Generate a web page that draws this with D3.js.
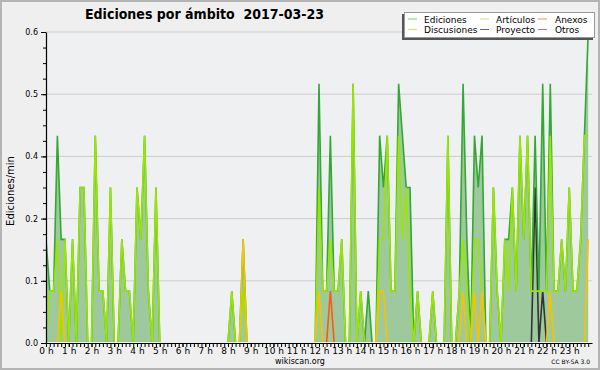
<!DOCTYPE html>
<html>
<head>
<meta charset="utf-8">
<script src="https://cdn.jsdelivr.net/npm/d3@7/dist/d3.min.js"></script>
<style>
  body { margin: 0; background: #efefef; }
  text { font-family: "DejaVu Sans", sans-serif; }
</style>
</head>
<body>
<svg id="chart" width="600" height="370"></svg>
<script>
// datos: ediciones por minuto, un valor cada 10 minutos (144 por día)
const titulo = "Ediciones por ámbito  2017-03-23";
const nombres = ["Ediciones", "Artículos", "Anexos", "Discusiones", "Proyecto", "Otros"];
const horas = ["0 h","1 h","2 h","3 h","4 h","5 h","6 h","7 h","8 h","9 h","10 h","11 h",
               "12 h","13 h","14 h","15 h","16 h","17 h","18 h","19 h","20 h","21 h","22 h","23 h"];
const yTicks = [0, 0.12, 0.24, 0.36, 0.48, 0.6];

const ediciones = [
  0.2,0.1,0.1,0.4,0.2,0.2, 0,0.2,0,0.3,0.3,0,
  0,0.4,0.1,0.1,0,0.3, 0,0,0.2,0.1,0.1,0,
  0.3,0.2,0.4,0.1,0,0.3, 0,0,0,0,0,0,
  0,0,0,0,0,0, 0,0,0,0,0,0,
  0,0.1,0,0,0.2,0, 0,0,0,0,0,0,
  0,0,0,0,0,0, 0,0,0,0,0,0,
  0.5,0.1,0.1,0.4,0.1,0.1, 0.2,0,0,0.5,0,0.1,
  0,0.1,0,0,0.4,0.3, 0.4,0.1,0.1,0.5,0.4,0.3,
  0.3,0,0.1,0,0,0, 0.1,0,0,0,0.4,0,
  0,0.1,0.5,0.2,0,0.4, 0.3,0.4,0,0,0.3,0.1,
  0,0.2,0.2,0.3,0.1,0.4, 0.2,0.4,0.1,0.4,0.1,0.5,
  0.1,0.5,0.1,0.1,0.2,0.1, 0.3,0.1,0.1,0.2,0.4,0.6
];
const articulos = [
  0,0.1,0.1,0.2,0,0.2, 0,0.2,0,0.3,0.3,0,
  0,0.4,0.1,0.1,0,0.3, 0,0,0.2,0.1,0.1,0,
  0.3,0.2,0.4,0.1,0,0.3, 0,0,0,0,0,0,
  0,0,0,0,0,0, 0,0,0,0,0,0,
  0,0.1,0,0,0.1,0, 0,0,0,0,0,0,
  0,0,0,0,0,0, 0,0,0,0,0,0,
  0.3,0.1,0.1,0.2,0.1,0.1, 0.2,0,0,0.5,0,0.1,
  0,0,0,0,0.2,0.2, 0.4,0.1,0.1,0.4,0.2,0.3,
  0.1,0,0.1,0,0,0, 0.1,0,0,0,0.4,0,
  0,0.1,0.2,0.1,0,0.2, 0.2,0.1,0,0,0.3,0.1,
  0,0.2,0.1,0.3,0.1,0.4, 0.2,0.4,0.1,0.1,0.1,0.1,
  0.1,0.4,0.1,0.1,0.2,0.1, 0.3,0.1,0.1,0.2,0.4,0.4
];
const anexos = [
  0,0,0,0,0,0, 0,0,0,0,0,0,
  0,0,0,0,0,0, 0,0,0,0,0,0,
  0,0,0,0,0,0, 0,0,0,0,0,0,
  0,0,0,0,0,0, 0,0,0,0,0,0,
  0,0,0,0,0,0, 0,0,0,0,0,0,
  0,0,0,0,0,0, 0,0,0,0,0,0,
  0,0,0,0.1,0,0, 0,0,0,0,0,0,
  0,0,0,0,0,0, 0,0,0,0,0,0,
  0,0,0,0,0,0, 0,0,0,0,0,0,
  0,0,0,0,0,0, 0,0,0,0,0,0,
  0,0,0,0,0,0, 0,0,0,0,0,0,
  0,0,0,0,0,0, 0,0,0,0,0,0
];
const discusiones = [
  0,0,0,0,0.1,0, 0,0,0,0,0,0,
  0,0,0,0,0,0, 0,0,0,0,0,0,
  0,0,0,0,0,0, 0,0,0,0,0,0,
  0,0,0,0,0,0, 0,0,0,0,0,0,
  0,0,0,0,0.2,0, 0,0,0,0,0,0,
  0,0,0,0,0,0, 0,0,0,0,0,0,
  0.1,0,0,0,0,0, 0,0,0,0,0,0,
  0,0,0,0,0.1,0.1, 0,0,0,0,0,0,
  0,0,0,0,0,0, 0,0,0,0,0,0,
  0,0,0.1,0,0,0.1, 0,0.1,0,0,0,0,
  0,0,0,0,0,0, 0,0,0,0,0,0,
  0,0.1,0,0,0,0, 0,0,0,0,0,0.2
];
const proyecto = [
  0,0,0,0,0,0, 0,0,0,0,0,0,
  0,0,0,0,0,0, 0,0,0,0,0,0,
  0,0,0,0,0,0, 0,0,0,0,0,0,
  0,0,0,0,0,0, 0,0,0,0,0,0,
  0,0,0,0,0,0, 0,0,0,0,0,0,
  0,0,0,0,0,0, 0,0,0,0,0,0,
  0,0,0,0,0,0, 0,0,0,0,0,0,
  0,0,0,0,0,0, 0,0,0,0,0,0,
  0,0,0,0,0,0, 0,0,0,0,0,0,
  0,0,0,0,0,0, 0,0,0,0,0,0,
  0,0,0,0,0,0, 0,0,0,0.3,0,0.1,
  0,0,0,0,0,0, 0,0,0,0,0,0
];
const otros = [
  0,0,0,0,0,0, 0,0,0,0,0,0,
  0,0,0,0,0,0, 0,0,0,0,0,0,
  0,0,0,0,0,0, 0,0,0,0,0,0,
  0,0,0,0,0,0, 0,0,0,0,0,0,
  0,0,0,0,0,0, 0,0,0,0,0,0,
  0,0,0,0,0,0, 0,0,0,0,0,0,
  0,0,0,0,0,0, 0,0,0,0,0,0,
  0,0,0,0,0,0, 0,0,0,0,0,0,
  0,0,0,0,0,0, 0,0,0,0,0,0,
  0,0,0,0,0,0, 0,0,0,0,0,0,
  0,0,0,0,0,0, 0,0,0,0,0,0,
  0,0,0,0,0,0, 0,0,0,0,0,0
];

const colores = ["#33a833", "#9be600", "#ff5a14", "#f7c300", "#333333", "#8a3cf0"];
const coloresLeyenda = ["#7dcc7d", "#c4ee55", "#ff8a5a", "#ffd64a", "#666666", "#a070f0"];

function drawChart() {
    const svg = d3.select("#chart");
    const area = {left: 46, right: 592, top: 32, bottom: 343};

    // fondo y marco
    svg.append("rect").attr("x", 1).attr("y", 1).attr("width", 598).attr("height", 368)
        .attr("fill", "#efefef").attr("stroke", "#b4b4b4").attr("stroke-width", 2);
    svg.append("rect").attr("x", area.left).attr("y", area.top)
        .attr("width", area.right - area.left).attr("height", area.bottom - area.top)
        .attr("fill", "#eff0f2");

    // escalas
    const scX = d3.scaleLinear().domain([0, 24]).range([area.left, area.right]);
    const scY = d3.scaleLinear().domain([0, 0.6]).range([area.bottom, area.top]);

    // líneas de la rejilla
    svg.append("g").selectAll("line")
        .data(yTicks.slice(1))
        .enter().append("line")
        .attr("x1", area.left).attr("x2", area.right)
        .attr("y1", d => scY(d)).attr("y2", d => scY(d))
        .attr("stroke", "#cdcdcd");

    // recorte: lo que vale 0 queda escondido bajo el eje
    svg.append("defs").append("clipPath").attr("id", "recorte")
        .append("rect").attr("x", area.left).attr("y", 0)
        .attr("width", area.right - area.left).attr("height", area.bottom - 1);

    const plot = svg.append("g").attr("clip-path", "url(#recorte)");

    // área de las ediciones totales
    plot.append("path")
        .datum(ediciones)
        .attr("fill", "#9dc99d")
        .attr("d", d3.area().x((d, i) => scX(i / 6)).y0(scY(0) + 2).y1(d => scY(d)));

    const linea = d3.line().x((d, i) => scX(i / 6)).y(d => scY(d));
    const datos = [ediciones, articulos, anexos, discusiones, proyecto, otros];
    const orden = [5, 4, 0, 1, 2, 3];
    for (let k of orden) {
        plot.append("path")
            .datum(datos[k])
            .attr("fill", "none")
            .attr("stroke", colores[k])
            .attr("stroke-width", 1.6)
            .attr("d", linea);
    }

    // eje X: marcas cada 10 minutos y etiquetas por hora
    svg.append("g")
        .attr("transform", `translate(0, ${area.bottom})`)
        .call(d3.axisBottom(scX).tickValues(d3.range(144).map(i => i / 6))
            .tickSize(4).tickSizeOuter(0).tickFormat(""))
        .call(g => g.select(".domain").attr("stroke-width", 1.2));

    svg.append("g")
        .attr("transform", `translate(0, ${area.bottom})`)
        .call(d3.axisBottom(scX).tickValues(d3.range(24)).tickSize(4)
            .tickFormat(d => horas[d]))
        .call(g => g.select(".domain").remove())
        .selectAll("text")
        .attr("y", 5)
        .style("font-size", "9px")
        .style("font-family", "DejaVu Sans");

    // eje Y
    svg.append("g")
        .attr("transform", `translate(${area.left}, 0)`)
        .call(d3.axisLeft(scY).tickValues(d3.range(21).map(i => i * 0.03))
            .tickSize(3).tickSizeOuter(0).tickFormat(""))
        .call(g => g.select(".domain").attr("stroke-width", 1.2));

    svg.append("g")
        .attr("transform", `translate(${area.left}, 0)`)
        .call(d3.axisLeft(scY).tickValues(yTicks).tickSize(5).tickFormat(d3.format(".1f")))
        .call(g => g.select(".domain").remove())
        .selectAll("text")
        .attr("x", -8)
        .style("font-size", "8px")
        .style("font-family", "DejaVu Sans");

    // textos
    svg.append("text")
        .attr("x", 85).attr("y", 18.5)
        .attr("xml:space", "preserve")
        .style("white-space", "pre")
        .style("font-family", "'Liberation Sans Narrow', 'DejaVu Sans Condensed', 'Liberation Sans'")
        .style("font-stretch", "condensed")
        .style("font-weight", "bold")
        .style("font-size", "14px")
        .text(titulo);

    svg.append("text")
        .attr("transform", "translate(13.5, 191) rotate(-90)")
        .attr("text-anchor", "middle")
        .style("font-size", "10px")
        .text("Ediciones/min");

    svg.append("text")
        .attr("x", 300).attr("y", 364)
        .attr("text-anchor", "middle")
        .style("font-size", "8px")
        .text("wikiscan.org");

    svg.append("text")
        .attr("x", 590).attr("y", 364)
        .attr("text-anchor", "end")
        .style("font-size", "6px")
        .text("CC BY-SA 3.0");

    // leyenda
    const ley = svg.append("g").attr("transform", "translate(404, 12)");
    ley.append("rect").attr("x", -2).attr("y", 2).attr("width", 191).attr("height", 26)
        .attr("fill", "#555");
    ley.append("rect").attr("x", 0.5).attr("y", 0.5).attr("width", 190).attr("height", 25)
        .attr("fill", "white").attr("stroke", "#999");

    const colX = [4, 76, 134];
    const txtX = [20, 92, 151];
    nombres.forEach((nombre, i) => {
        const c = i % 3, f = Math.floor(i / 3);
        const yy = 7 + f * 10.5;
        ley.append("line")
            .attr("x1", colX[c]).attr("x2", colX[c] + 9)
            .attr("y1", yy).attr("y2", yy)
            .attr("stroke", coloresLeyenda[i]);
        ley.append("text")
            .attr("x", txtX[c]).attr("y", yy + 3.5)
            .style("font-size", "9px")
            .text(nombre);
    });
}

drawChart();
</script>
</body>
</html>
